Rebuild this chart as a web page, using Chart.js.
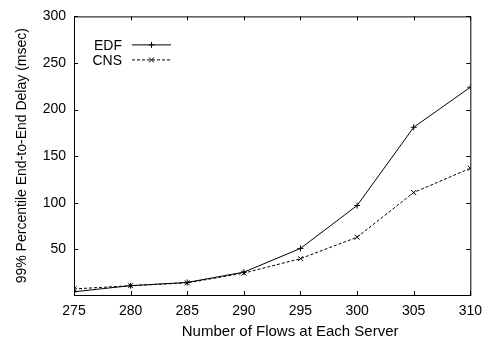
<!DOCTYPE html>
<html>
<head>
<meta charset="utf-8">
<script src="https://cdn.jsdelivr.net/npm/chart.js@4"></script>
<style>
  html, body { margin: 0; padding: 0; background: #fff; }
  #wrap { width: 490px; height: 341px; }
</style>
</head>
<body>
<div id="wrap"><canvas id="delayChart" width="490" height="341"></canvas></div>
<script>
// data block
const flows = [275, 280, 285, 290, 295, 300, 305, 310];
const edfDelay = [4.5, 11, 14.5, 25.5, 51, 97, 181, 224];
const cnsDelay = [7.5, 11, 14, 24.5, 40, 63, 111, 137];
const yTicks = [50, 100, 150, 200, 250, 300];
const xTitle = 'Number of Flows at Each Server';
const yTitle = '99% Percentile End-to-End Delay (msec)';

const FONT = 'Liberation Sans, Arial, Helvetica, sans-serif';

// frame + inward ticks on all sides, like gnuplot's border
const framePlugin = {
	id: 'frame',
	afterDatasetsDraw(chart) {
		const { ctx, chartArea: a, scales } = chart;
		const len = 4;
		ctx.save();
		ctx.strokeStyle = '#000';
		ctx.lineWidth = 1;
		ctx.strokeRect(a.left + 0.5, a.top + 0.5, a.right - a.left, a.bottom - a.top);
		ctx.beginPath();
		flows.forEach((v) => {
			const x = Math.round(scales.x.getPixelForValue(v)) + 0.5;
			ctx.moveTo(x, a.bottom);
			ctx.lineTo(x, a.bottom - len);
			ctx.moveTo(x, a.top);
			ctx.lineTo(x, a.top + len);
		});
		yTicks.forEach((v) => {
			const y = Math.round(scales.y.getPixelForValue(v)) + 0.5;
			ctx.moveTo(a.left, y);
			ctx.lineTo(a.left + len, y);
			ctx.moveTo(a.right, y);
			ctx.lineTo(a.right - len, y);
		});
		ctx.stroke();
		ctx.restore();
	},
};

// gnuplot style key: label, then line sample with point
// also the x label, which gnuplot puts a bit right of the plot centre
const keyPlugin = {
	id: 'key',
	afterDraw(chart) {
		const { ctx, chartArea: a } = chart;
		ctx.save();
		ctx.fillStyle = '#000';
		ctx.font = '15px ' + FONT;
		ctx.textAlign = 'center';
		ctx.textBaseline = 'middle';
		ctx.fillText(xTitle, (a.left + a.right) / 2 + 18, 332);

		ctx.font = '14px ' + FONT;
		ctx.textAlign = 'right';
		chart.data.datasets.forEach((ds, i) => {
			const y = a.top + 28.5 + i * 15;
			ctx.fillText(ds.label, a.left + 48, y + 1);
			ctx.strokeStyle = ds.borderColor;
			ctx.lineWidth = 1;
			ctx.setLineDash(ds.borderDash || []);
			ctx.beginPath();
			ctx.moveTo(a.left + 58, y);
			ctx.lineTo(a.left + 97, y);
			ctx.stroke();
			ctx.setLineDash([]);
			const cx = a.left + 77.5;
			ctx.beginPath();
			if (ds.pointStyle === 'cross') {
				ctx.moveTo(cx - 3, y); ctx.lineTo(cx + 3, y);
				ctx.moveTo(cx, y - 3); ctx.lineTo(cx, y + 3);
			} else {
				ctx.moveTo(cx - 2.5, y - 2.5); ctx.lineTo(cx + 2.5, y + 2.5);
				ctx.moveTo(cx - 2.5, y + 2.5); ctx.lineTo(cx + 2.5, y - 2.5);
			}
			ctx.stroke();
		});
		ctx.restore();
	},
};

const data = {
	datasets: [
		{
			label: 'EDF',
			data: flows.map((f, i) => ({ x: f, y: edfDelay[i] })),
			borderColor: '#000',
			borderWidth: 1,
			pointStyle: 'cross',
			pointRadius: 3,
			pointBorderColor: '#000',
			pointBorderWidth: 1,
			tension: 0,
		},
		{
			label: 'CNS',
			data: flows.map((f, i) => ({ x: f, y: cnsDelay[i] })),
			borderColor: '#000',
			borderWidth: 1,
			borderDash: [3, 2],
			pointStyle: 'crossRot',
			pointRadius: 3.5,
			pointBorderColor: '#000',
			pointBorderWidth: 1,
			tension: 0,
		},
	],
};

const config = {
	type: 'line',
	data,
	options: {
		responsive: false,
		animation: false,
		layout: { padding: { top: 13, right: 17, left: 0, bottom: 0 } },
		plugins: {
			legend: { display: false },
			tooltip: { enabled: false },
		},
		scales: {
			x: {
				type: 'linear',
				min: 275,
				max: 310,
				grid: { display: false, drawTicks: false },
				border: { display: false },
				afterBuildTicks: (s) => { s.ticks = flows.map((v) => ({ value: v })); },
				afterFit: (s) => { s.height = 46; },
				ticks: { color: '#000', font: { family: FONT, size: 14 }, padding: 8, maxRotation: 0 },
				title: { display: false },
			},
			y: {
				type: 'linear',
				min: 1,
				max: 300,
				grid: { display: false, drawTicks: false },
				border: { display: false },
				afterBuildTicks: (s) => { s.ticks = yTicks.map((v) => ({ value: v })); },
				afterFit: (s) => { s.width = 74; },
				ticks: { color: '#000', font: { family: FONT, size: 14 }, padding: 8 },
				title: {
					display: true,
					text: yTitle,
					color: '#000',
					font: { family: FONT, size: 14 },
					padding: { top: 14, bottom: 0 },
				},
			},
		},
	},
	plugins: [framePlugin, keyPlugin],
};

const delayChart = new Chart(document.getElementById('delayChart'), config);
</script>
</body>
</html>
